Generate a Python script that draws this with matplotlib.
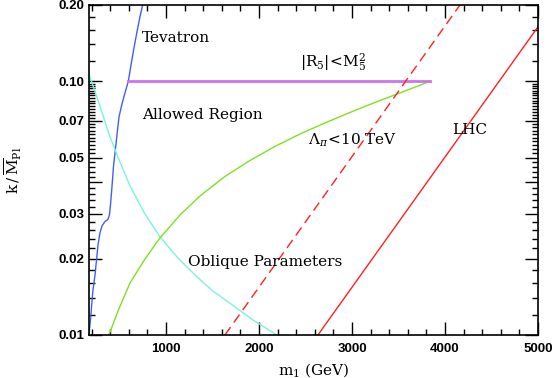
import matplotlib.pyplot as plt
from matplotlib.ticker import FixedLocator, NullFormatter

plt.rcParams['mathtext.fontset'] = 'dejavuserif'

# curves: m1 (GeV) vs k/M_Pl
tev_m = [172, 188, 201, 215, 237, 253, 269, 290, 312, 344, 376, 392, 403,
         414, 425, 435, 452, 473, 495, 527, 559, 595, 624, 656, 688, 720, 749]
tev_k = [0.0100, 0.01146, 0.01313, 0.01504, 0.01724, 0.01976, 0.02264,
         0.02525, 0.02691, 0.02803, 0.02854, 0.02973, 0.03255, 0.03630,
         0.04086, 0.04597, 0.05221, 0.06146, 0.07239, 0.08145, 0.0900,
         0.1000, 0.1161, 0.1354, 0.1566, 0.1794, 0.200]

obl_m = [172, 290, 398, 505, 613, 774, 935, 1129, 1330, 1505, 1688, 1936, 2190]
obl_k = [0.1069, 0.0799, 0.0604, 0.0481, 0.0387, 0.0300, 0.0244, 0.0201,
         0.0170, 0.0149, 0.01334, 0.01146, 0.0100]

lam_m = [387, 484, 613, 774, 935, 1151, 1366, 1634, 1903, 2172, 2441, 2710,
         2978, 3247, 3516, 3839]
lam_k = [0.0100, 0.01243, 0.01603, 0.01994, 0.02413, 0.02973, 0.03533,
         0.04217, 0.04876, 0.05538, 0.0620, 0.06855, 0.0754, 0.08257,
         0.0900, 0.100]

r5_m = [595, 3839]
r5_k = [0.100, 0.100]

lhc_dash_m = [1634, 4161]
lhc_dash_k = [0.010, 0.200]

lhc_m = [2634, 5000]
lhc_k = [0.010, 0.164]

yticks = [0.01, 0.02, 0.03, 0.04, 0.05, 0.07, 0.10, 0.20]
ytick_labels = ['0.01', '0.02', '0.03', '', '0.05', '0.07', '0.10', '0.20']
yminor = [i / 1000 for i in range(12, 100, 2)] + [0.12, 0.14, 0.16, 0.18]
xticks = [1000, 2000, 3000, 4000, 5000]
xminor = list(range(200, 5000, 200))

fig = plt.figure(figsize=(5.54, 3.78), dpi=100)
ax = fig.add_axes([0.1606, 0.1138, 0.8105, 0.873])

lw = 1.0
ax.plot(tev_m, tev_k, color='#4060f0', lw=lw)
ax.plot(obl_m, obl_k, color='#78f4dc', lw=lw)
ax.plot(lam_m, lam_k, color='#80e020', lw=lw)
ax.plot(r5_m, r5_k, color='#d070f0', lw=2.0)
ax.plot(lhc_dash_m, lhc_dash_k, color='#ff2020', lw=lw, ls=(0, (7, 4)))
ax.plot(lhc_m, lhc_k, color='#ff2020', lw=lw)

ax.set_yscale('log')
ax.set_xlim(172, 5000)
ax.set_ylim(0.01, 0.20)

ax.yaxis.set_major_locator(FixedLocator(yticks))
ax.set_yticklabels(ytick_labels)
ax.yaxis.set_minor_locator(FixedLocator(yminor))
ax.yaxis.set_minor_formatter(NullFormatter())
ax.xaxis.set_major_locator(FixedLocator(xticks))
ax.xaxis.set_minor_locator(FixedLocator(xminor))

ax.tick_params(which='both', direction='in', top=True, right=True, width=1.0)
ax.tick_params(which='major', length=9.5)
ax.tick_params(which='minor', length=4.5)
for lab in ax.get_xticklabels() + ax.get_yticklabels():
    lab.set_family('Liberation Sans')
    lab.set_fontweight('bold')
    lab.set_fontsize(9.5)
ax.tick_params(axis='x', pad=6)
for sp in ax.spines.values():
    sp.set_linewidth(1.2)

serif = dict(family='DejaVu Serif', fontsize=11, va='center')
ax.text(742, 0.148, 'Tevatron', **serif)
ax.text(742, 0.0737, 'Allowed Region', **serif)
ax.text(2441, 0.119, r'$|\mathrm{R}_5|\!<\!\mathrm{M}_5^2$', **serif)
ax.text(2527, 0.0588, r'$\Lambda_\pi\!<\!10$ TeV', **serif)
ax.text(1237, 0.0194, 'Oblique Parameters', **serif)
ax.text(4075, 0.0643, 'LHC', **serif)

ax.set_xlabel(r'$\mathrm{m_1}$ (GeV)', family='DejaVu Serif', fontsize=11)
ax.set_ylabel(r'$\mathrm{k}\,/\,\overline{\mathrm{M}}_{\mathrm{Pl}}$',
              family='DejaVu Serif', fontsize=11)
ax.yaxis.set_label_coords(-0.145, 0.5)

fig.savefig('out.png', dpi=100)
